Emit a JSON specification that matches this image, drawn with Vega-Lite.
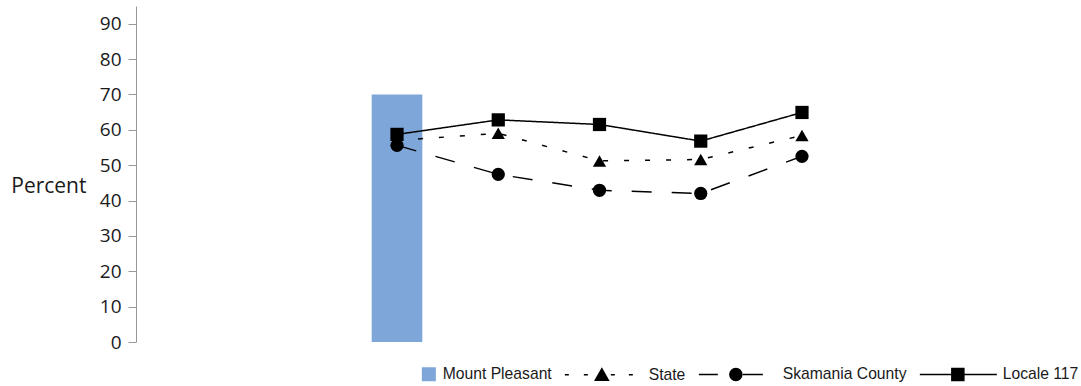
{
  "$schema": "https://vega.github.io/schema/vega-lite/v6.json",
  "width": 927,
  "height": 336,
  "autosize": {"type": "none"},
  "padding": {"left": 136, "top": 6, "right": 18, "bottom": 44},
  "background": "white",
  "config": {"view": {"stroke": null}, "font": "Open Sans"},
  "data": {
    "values": [
      {"period": "2012-13", "series": "Mount Pleasant", "value": 70},
      {"period": "2012-13", "series": "State", "value": 57},
      {"period": "2013-14", "series": "State", "value": 59},
      {"period": "2014-15", "series": "State", "value": 51.2},
      {"period": "2015-16", "series": "State", "value": 51.6},
      {"period": "2016-17", "series": "State", "value": 58.4},
      {"period": "2012-13", "series": "Skamania County", "value": 55.6},
      {"period": "2013-14", "series": "Skamania County", "value": 47.4},
      {"period": "2014-15", "series": "Skamania County", "value": 42.9},
      {"period": "2015-16", "series": "Skamania County", "value": 42.0},
      {"period": "2016-17", "series": "Skamania County", "value": 52.5},
      {"period": "2012-13", "series": "Locale 117", "value": 58.7},
      {"period": "2013-14", "series": "Locale 117", "value": 62.8},
      {"period": "2014-15", "series": "Locale 117", "value": 61.5},
      {"period": "2015-16", "series": "Locale 117", "value": 56.8},
      {"period": "2016-17", "series": "Locale 117", "value": 64.9}
    ]
  },
  "encoding": {
    "x": {
      "field": "period",
      "type": "nominal",
      "axis": null,
      "scale": {
        "domain": ["pad1", "pad2", "2012-13", "2013-14", "2014-15", "2015-16", "2016-17", "pad3", "pad4"],
        "paddingInner": 0.5,
        "paddingOuter": 0.328
      }
    },
    "y": {
      "field": "value",
      "type": "quantitative",
      "scale": {"domain": [0, 95], "nice": false},
      "axis": {
        "title": "Percent",
        "values": [0, 10, 20, 30, 40, 50, 60, 70, 80, 90],
        "grid": false,
        "domainColor": "#999999",
        "tickColor": "#999999",
        "tickSize": 8,
        "labelPadding": 7,
        "labelFont": "Open Sans",
        "labelFontSize": 19,
        "labelColor": "#1a1a1a",
        "titleFont": "Open Sans",
        "titleFontSize": 21,
        "titleFontWeight": "normal",
        "titleColor": "#1a1a1a",
        "titleAngle": 0,
        "titleAlign": "right",
        "titleBaseline": "middle",
        "titleX": -50,
        "titleY": 180
      }
    }
  },
  "layer": [
    {
      "transform": [{"filter": "datum.series === 'Mount Pleasant'"}],
      "mark": {"type": "bar", "color": "#7ea6d8"}
    },
    {
      "transform": [{"filter": "datum.series !== 'Mount Pleasant'"}],
      "mark": {"type": "line", "color": "black", "strokeWidth": 1.5},
      "encoding": {
        "detail": {"field": "series"},
        "strokeDash": {
          "field": "series",
          "scale": {
            "domain": ["State", "Skamania County", "Locale 117"],
            "range": [[5, 16], [20, 20], [1, 0]]
          },
          "legend": null
        }
      }
    },
    {
      "transform": [{"filter": "datum.series !== 'Mount Pleasant'"}],
      "mark": {"type": "point", "filled": true, "color": "black", "opacity": 1, "size": 175},
      "encoding": {
        "shape": {
          "field": "series",
          "scale": {
            "domain": ["State", "Skamania County", "Locale 117"],
            "range": ["triangle-up", "circle", "square"]
          },
          "legend": null
        }
      }
    },
    {
      "transform": [{"filter": "datum.series === 'nothing'"}],
      "mark": {"type": "point", "opacity": 1, "strokeWidth": 1.5},
      "encoding": {
        "shape": {
          "field": "series",
          "scale": {
            "domain": ["Mount Pleasant", "State", "Skamania County", "Locale 117"],
            "range": [
              "M25.75,-6.25H38.25V6.25H25.75Z",
              "M-38,0H-34M-19,0H-15M8,0H12M26,0H30M-7.5,5.5L-1,-6L5.5,5.5Z",
              "M-38,0H-19M6,0H26M-7,0A6,6 0 1,0 5,0A6,6 0 1,0 -7,0Z",
              "M-37,0H40M-5,-6H7V6H-5Z"
            ]
          },
          "legend": {
            "title": null,
            "orient": "none",
            "legendX": 253,
            "legendY": 360,
            "direction": "horizontal",
            "columns": 4,
            "columnPadding": 9,
            "padding": 0,
            "symbolSize": 4,
            "symbolStrokeWidth": 1.5,
            "symbolOpacity": 1,
            "labelOffset": 38,
            "labelFont": "Liberation Sans",
            "labelFontSize": 15.7,
            "labelColor": "#1a1a1a",
            "labelLimit": 300
          }
        },
        "fill": {
          "field": "series",
          "scale": {
            "domain": ["Mount Pleasant", "State", "Skamania County", "Locale 117"],
            "range": ["#7ea6d8", "black", "black", "black"]
          }
        },
        "stroke": {
          "field": "series",
          "scale": {
            "domain": ["Mount Pleasant", "State", "Skamania County", "Locale 117"],
            "range": ["#7ea6d8", "black", "black", "black"]
          }
        }
      }
    }
  ],
  "resolve": {"scale": {"shape": "independent", "fill": "independent", "stroke": "independent"}}
}
